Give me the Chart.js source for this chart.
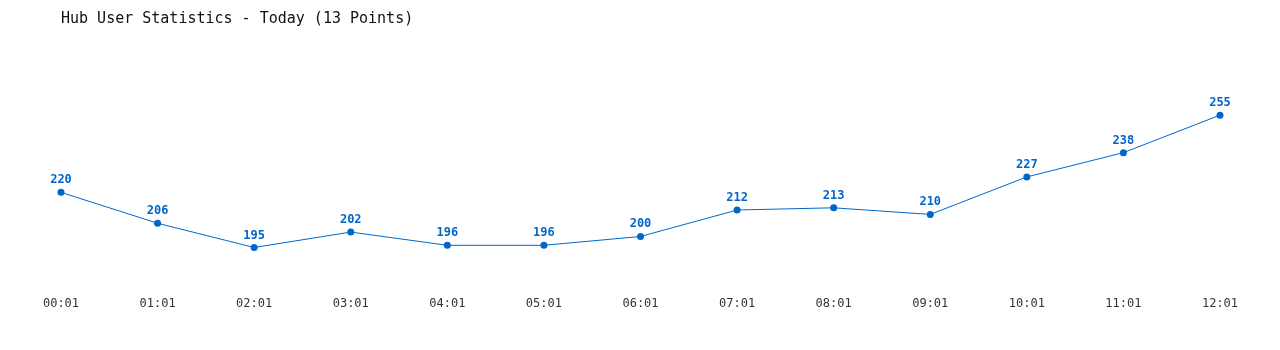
<!DOCTYPE html>
<html>
<head>
<meta charset="utf-8">
<title>Hub User Statistics</title>
<script src="https://cdn.jsdelivr.net/npm/chart.js@4"></script>
<style>
  html, body { margin: 0; padding: 0; background: #fff; }
  #wrap { width: 1280px; height: 350px; position: relative; }
</style>
</head>
<body>
<div id="wrap"><canvas id="usersChart" width="1280" height="350"></canvas></div>
<script>
// hourly samples
const timeLabels = ['00:01', '01:01', '02:01', '03:01', '04:01', '05:01', '06:01',
                    '07:01', '08:01', '09:01', '10:01', '11:01', '12:01'];
const userCounts = [220, 206, 195, 202, 196, 196, 200, 212, 213, 210, 227, 238, 255];

const lineBlue = '#0066cc';
const monoFont = '"DejaVu Sans Mono", "Liberation Mono", monospace';

// draws the value above each point
const pointValues = {
    id: 'pointValues',
    afterDatasetsDraw(chart) {
        const ctx = chart.ctx;
        const meta = chart.getDatasetMeta(0);
        ctx.save();
        ctx.font = 'bold 12px ' + monoFont;
        ctx.fillStyle = lineBlue;
        ctx.textAlign = 'center';
        ctx.textBaseline = 'alphabetic';
        meta.data.forEach(function(pt, i) {
            ctx.fillText(String(chart.data.datasets[0].data[i]), pt.x, pt.y - 9);
        });
        ctx.restore();
    }
};

new Chart(document.getElementById('usersChart').getContext('2d'), {
    type: 'line',
    data: {
        labels: timeLabels,
        datasets: [{
            label: 'Users',
            data: userCounts,
            borderColor: lineBlue,
            backgroundColor: lineBlue,
            borderWidth: 1,
            pointRadius: 3.5,
            pointBackgroundColor: lineBlue,
            pointBorderWidth: 0,
            tension: 0,
            fill: false
        }]
    },
    options: {
        responsive: false,
        animation: false,
        layout: {
            padding: { left: 61, right: 60, top: 0, bottom: 23 }
        },
        plugins: {
            legend: { display: false },
            tooltip: { enabled: false },
            title: {
                display: true,
                text: 'Hub User Statistics - Today (13 Points)',
                align: 'start',
                color: '#111',
                font: { family: monoFont, size: 15, weight: 'normal' },
                padding: { top: 10, bottom: 32 }
            }
        },
        scales: {
            x: {
                grid: { display: false, drawTicks: false },
                border: { display: false },
                ticks: {
                    color: '#333',
                    font: { family: monoFont, size: 12 },
                    padding: 16,
                    maxRotation: 0,
                    autoSkip: false
                }
            },
            y: {
                display: false,
                min: 180,
                max: 280
            }
        }
    },
    plugins: [pointValues]
});
</script>
</body>
</html>
